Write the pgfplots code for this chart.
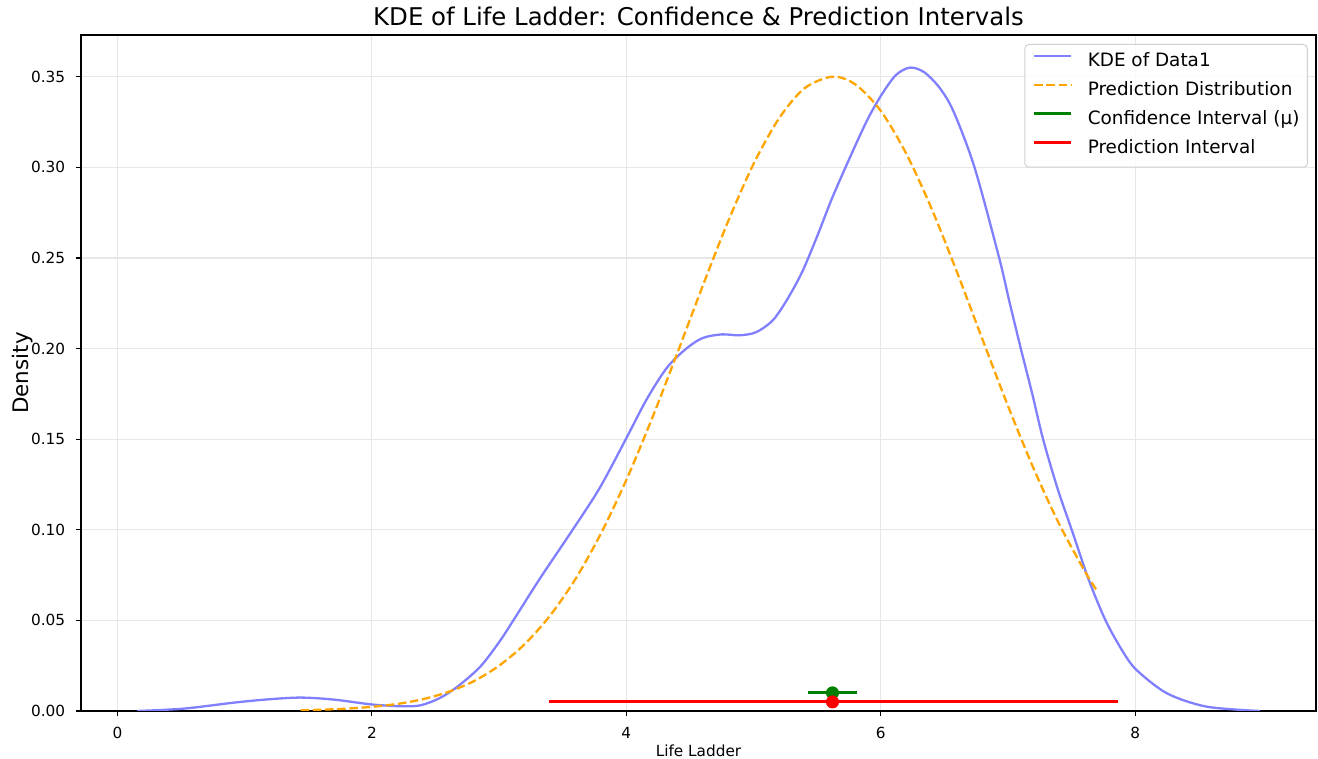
\documentclass[border=0pt]{standalone}
\usepackage{fontspec}
\setmainfont{DejaVu Sans}
\usepackage{pgfplots}
\pgfplotsset{compat=1.18}
\definecolor{kdeblue}{HTML}{8080FF}
\definecolor{mplorange}{HTML}{FFA500}
\definecolor{mplgreen}{HTML}{008000}
\definecolor{mplred}{HTML}{FF0000}
\definecolor{gridgray}{HTML}{E7E7E7}
\begin{document}
\begin{tikzpicture}
\begin{axis}[
  scale only axis, width=617.5pt, height=338pt,
  xmin=-0.286, xmax=9.42, ymin=0, ymax=0.373,
  xtick={0,2,4,6,8},
  ytick={0,0.05,0.1,0.15,0.2,0.25,0.3,0.35},
  yticklabel style={/pgf/number format/fixed, /pgf/number format/fixed zerofill, /pgf/number format/precision=2},
  /pgf/number format/assume math mode=true,
  tick label style={font=\fontsize{7.65pt}{9pt}\selectfont},
  xticklabel style={anchor=base, inner sep=0pt, yshift=-11pt},
  yticklabel style={anchor=east, inner sep=0pt, xshift=-5pt},
  tick align=outside, major tick length=2.7pt, tick pos=left,
  grid=major, grid style={color=gridgray, line width=0.6pt},
  axis line style={line width=0.6pt},
  every tick/.style={black, line width=0.6pt},
  title={KDE of Life Ladder: Confidence \& Prediction Intervals},
  title style={font=\fontsize{12.2pt}{14pt}\selectfont, at={(axis description cs:0.5,1)}, anchor=base, yshift=-1.5pt, inner sep=0pt},
  xlabel={Life Ladder},
  xlabel style={font=\fontsize{7.65pt}{9pt}\selectfont, at={(axis description cs:0.5,-0.0667)}, anchor=base, inner sep=0pt},
  ylabel={Density},
  ylabel style={font=\fontsize{10.7pt}{12pt}\selectfont, at={(axis description cs:-0.0429,0.5)}, anchor=base, inner sep=0pt},
  legend cell align=left,
  legend style={at={(axis description cs:0.9935,0.9867)}, anchor=north east,
    draw=black!18, line width=0.5pt, rounded corners=2pt, fill=white, fill opacity=0.8, text opacity=1,
    font=\fontsize{9.2pt}{11pt}\selectfont,
    inner xsep=4pt, inner ysep=4.2pt, row sep=4.85pt,
    nodes={inner sep=0pt, text height=7pt, text depth=2.6pt}},
  legend image code/.code={\draw[#1] (0pt,3.2pt) -- (18.5pt,3.2pt); \path (0pt,3.2pt) (26pt,3.2pt);},
]
\addplot[kdeblue, line width=1.15pt, smooth] coordinates {
(0.155,0) (0.52,0.0013) (0.915,0.0046) (1.18,0.0064) (1.44,0.0074) (1.70,0.0063)
(2.0,0.0036) (2.23,0.0026) (2.38,0.0031) (2.53,0.0070) (2.67,0.0133) (2.85,0.0243)
(3.0,0.038) (3.112,0.050) (3.32,0.073) (3.578,0.100) (3.79,0.123) (3.996,0.150)
(4.16,0.172) (4.32,0.1895) (4.472,0.200) (4.60,0.2058) (4.75,0.2078) (4.89,0.2073) (5.02,0.2090)
(5.15,0.2155) (5.26,0.2266) (5.38,0.2420) (5.50,0.262) (5.62,0.2835) (5.78,0.309)
(5.90,0.327) (6.01,0.3405) (6.12,0.3510) (6.23,0.3550) (6.34,0.3525) (6.46,0.344) (6.57,0.331)
(6.736,0.300) (6.93,0.250) (7.008,0.2266) (7.10,0.200) (7.19,0.1750) (7.275,0.150) (7.39,0.1225)
(7.50,0.100) (7.635,0.0722) (7.766,0.050)
(7.90,0.033) (8.01,0.0226) (8.25,0.0097) (8.56,0.0024) (8.98,0.0)
};
\addlegendentry{KDE of Data1}
\addplot[mplorange, line width=1.15pt, dash pattern=on 4.25pt off 1.85pt, smooth] coordinates {
(1.44,0.0004) (1.6,0.0007) (1.8,0.0013) (2.0,0.0023) (2.2,0.0039) (2.4,0.0065)
(2.6,0.0105) (2.8,0.0164) (3.0,0.0250) (3.2,0.0368) (3.4,0.0526) (3.6,0.0728)
(3.8,0.0979) (4.0,0.1275) (4.2,0.1611) (4.4,0.1974) (4.6,0.2345) (4.8,0.2702)
(5.0,0.3019) (5.2,0.3270) (5.4,0.3436) (5.62,0.3500) (5.8,0.3457) (6.0,0.3311)
(6.2,0.3075) (6.4,0.2770) (6.6,0.2419) (6.8,0.2048) (7.0,0.1682) (7.2,0.1339)
(7.4,0.1034) (7.6,0.0775) (7.7,0.0662)
};
\addlegendentry{Prediction Distribution}
\addplot[mplgreen, line width=1.5pt] coordinates {(5.43,0.01) (5.81,0.01)};
\addlegendentry{Confidence Interval (μ)}
\addplot[mplgreen, only marks, mark=*, mark size=3.05pt, forget plot] coordinates {(5.62,0.01)};
\addplot[mplred, line width=1.5pt] coordinates {(3.39,0.005) (7.86,0.005)};
\addlegendentry{Prediction Interval}
\addplot[mplred, only marks, mark=*, mark size=3.05pt, forget plot] coordinates {(5.62,0.005)};
\end{axis}
\pgfresetboundingbox
\path[use as bounding box] (-40.5pt,-24pt) rectangle (618.5pt,355.5pt);
\end{tikzpicture}
\end{document}
